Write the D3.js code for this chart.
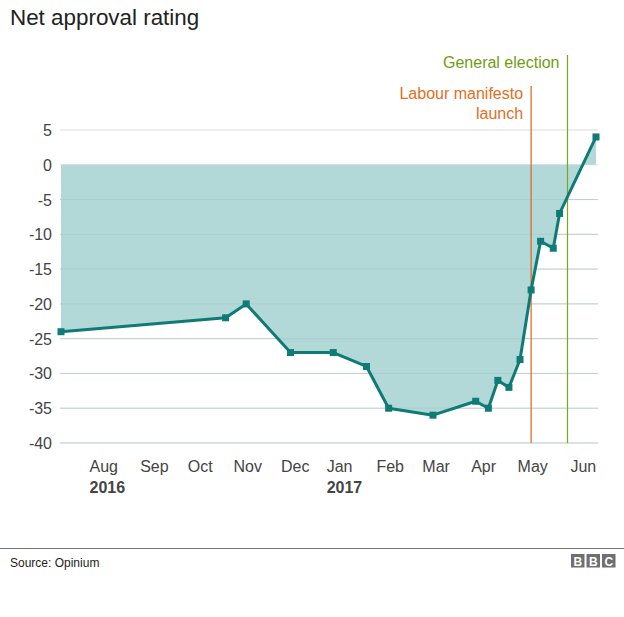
<!DOCTYPE html>
<html><head><meta charset="utf-8">
<script src="https://cdn.jsdelivr.net/npm/d3@7"></script>
<style>
body{margin:0;background:#fff;}
svg{display:block;font-family:"Liberation Sans",Arial,Helvetica,sans-serif;}
</style></head>
<body><svg id="c" width="624" height="617"></svg>
<script>
const pollDates = ["2016-07-23","2016-11-04","2016-11-17","2016-12-15","2017-01-11","2017-02-01","2017-02-15","2017-03-15","2017-04-11","2017-04-19","2017-04-25","2017-05-02","2017-05-09","2017-05-16","2017-05-22","2017-05-30","2017-06-03","2017-06-26"];
const netApproval = [-24,-22,-20,-27,-27,-29,-35,-36,-34,-35,-31,-32,-28,-18,-11,-12,-7,4];
const yTicks = [5,0,-5,-10,-15,-20,-25,-30,-35,-40];
const monthLabels = ["Aug","Sep","Oct","Nov","Dec","Jan","Feb","Mar","Apr","May","Jun"];
const monthLabelDates = ["2016-08-19","2016-09-20","2016-10-19","2016-11-18","2016-12-18","2017-01-15","2017-02-16","2017-03-17","2017-04-16","2017-05-17","2017-06-18"];
const yearLabels = ["2016","","","","","2017","","","","",""];
const eventNames = [["Labour manifesto","launch"],["General election"]];
const eventDates = ["2017-05-16","2017-06-08"];

const parse = d3.timeParse("%Y-%m-%d");
const data = pollDates.map((d,i)=>({date:parse(d),value:netApproval[i]}));

const svg = d3.select("#c");
const x = d3.scaleTime().domain([parse("2016-07-23"),parse("2017-06-26")]).range([61,596]);
const y = d3.scaleLinear().domain([-40,5]).range([443,130]);

// title
svg.append("text").attr("x",10).attr("y",25).attr("font-size",22.4).attr("fill","#222").text("Net approval rating");

// grid
const g = svg.append("g");
g.selectAll("line.grid").data(yTicks).join("line")
  .attr("x1",60).attr("x2",598).attr("y1",d=>y(d)).attr("y2",d=>y(d))
  .attr("stroke","#dcdcdc").attr("stroke-width",1);
g.selectAll("text.yt").data(yTicks).join("text")
  .attr("x",52).attr("y",d=>y(d)+6).attr("text-anchor","end")
  .attr("font-size",16).attr("fill","#444").text(d=>d);

// area
const area = d3.area().x(d=>x(d.date)).y0(y(0)).y1(d=>y(d.value));
svg.append("path").datum(data).attr("d",area).attr("fill","#b3d8d8");

// gridlines seen through the area
svg.append("g").selectAll("line").data(yTicks.filter(d=>d<0)).join("line")
  .attr("x1",60).attr("x2",598).attr("y1",d=>y(d)).attr("y2",d=>y(d))
  .attr("stroke","#9fc6c6").attr("stroke-width",1).attr("opacity",0.5);

// events
eventDates.forEach((ed,i)=>{
  const xe = x(parse(ed));
  const col = i===0 ? "#d9661c" : "#7ba51f";
  const tcol = i===0 ? "#e0701e" : "#6f9d12";
  const top = i===0 ? 86 : 55;
  svg.append("line").attr("x1",xe).attr("x2",xe).attr("y1",top).attr("y2",443)
    .attr("stroke",col).attr("stroke-width",1.2);
  eventNames[i].forEach((t,j)=>{
    svg.append("text").attr("x",xe-8).attr("y",(i===0?99:68)+j*20)
      .attr("text-anchor","end").attr("font-size",16).attr("fill",tcol).text(t);
  });
});

// line
const line = d3.line().x(d=>x(d.date)).y(d=>y(d.value));
svg.append("path").datum(data).attr("d",line).attr("fill","none")
  .attr("stroke","#0f7b77").attr("stroke-width",3).attr("stroke-linejoin","round");
svg.append("g").selectAll("rect").data(data).join("rect")
  .attr("x",d=>x(d.date)-3.5).attr("y",d=>y(d.value)-3.5).attr("width",7).attr("height",7)
  .attr("fill","#0f7b77");

// x labels
const xl = svg.append("g");
monthLabels.forEach((m,i)=>{
  const xm = x(parse(monthLabelDates[i]));
  const t = xl.append("text").attr("x",xm).attr("y",472).attr("text-anchor","middle")
    .attr("font-size",16).attr("fill","#444").text(m);
  if(yearLabels[i]){
    const bb = t.node().getBBox();
    xl.append("text").attr("x",bb.x).attr("y",493).attr("text-anchor","start")
      .attr("font-size",16).attr("font-weight","bold").attr("fill","#444").text(yearLabels[i]);
  }
});

// footer
svg.append("line").attr("x1",0).attr("x2",624).attr("y1",548.5).attr("y2",548.5).attr("stroke","#777").attr("stroke-width",1);
svg.append("text").attr("x",10).attr("y",567).attr("font-size",12).attr("fill","#222").text("Source: Opinium");
["B","B","C"].forEach((l,i)=>{
  const bx = 571 + i*15.5;
  svg.append("rect").attr("x",bx).attr("y",554).attr("width",13.5).attr("height",13.5).attr("fill","#707070");
  svg.append("text").attr("x",bx+6.75).attr("y",565.5).attr("text-anchor","middle")
    .attr("font-size",12).attr("font-weight","bold").attr("fill","#fff").text(l);
});
</script></body></html>
